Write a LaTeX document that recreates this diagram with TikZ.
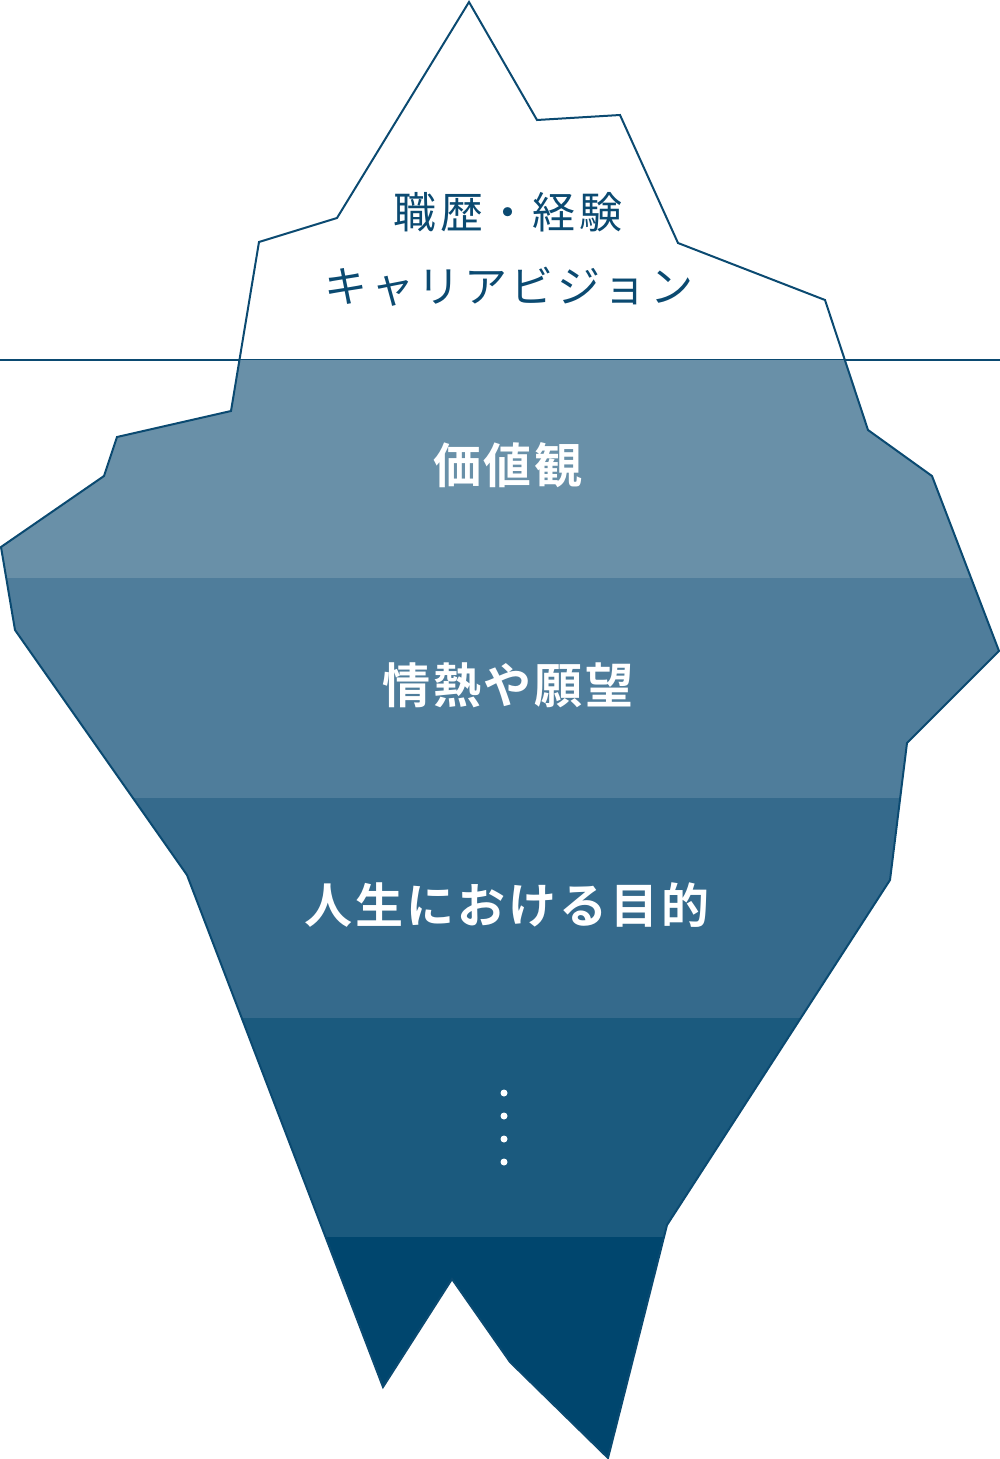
\documentclass[tikz,border=0pt]{standalone}
\usepackage{fontspec}
\newfontfamily\jp{Noto Sans CJK JP}
\newfontfamily\jpsp[LetterSpace=8]{Noto Sans CJK JP}
\newfontfamily\jpbold[LetterSpace=6]{Noto Sans CJK JP Bold}
\definecolor{edge}{HTML}{0B4A71}
\definecolor{bandA}{HTML}{6990A8}
\definecolor{bandB}{HTML}{4F7D9B}
\definecolor{bandC}{HTML}{356A8C}
\definecolor{bandD}{HTML}{1B5A7E}
\definecolor{bandE}{HTML}{00466E}
\tikzset{
  toptext/.style={text=edge, font=\jpsp\fontsize{43}{50}\selectfont, inner sep=0pt, anchor=center},
  bandtext/.style={text=white, font=\jpbold\fontsize{48}{56}\selectfont, inner sep=0pt, anchor=center},
  dotmark/.style={circle, fill=white, inner sep=0pt, minimum size=7pt},
  outline/.style={draw=edge, line width=2pt, line join=miter},
}
\begin{document}
\begin{tikzpicture}[x=1pt,y=-1pt]
\useasboundingbox (0,0) rectangle (1000,1459);
% water line
\draw[edge, line width=2pt] (0,360) -- (1000,360);
\def\berg{(469,2) -- (537,120) -- (620,115) -- (678,243) -- (825,300) -- (868,430) -- (932,476) -- (999,651) -- (907,743) -- (890,880) -- (667,1225) -- (608,1458) -- (510,1362) -- (452,1279) -- (383,1387) -- (187,875) -- (15,630) -- (1,547) -- (104,476) -- (117,437) -- (231,411) -- (259,242) -- (337,218) -- cycle}
\begin{scope}
  \clip \berg;
  \fill[bandA] (0,360) rectangle (1000,579);
  \fill[bandB] (0,578) rectangle (1000,799);
  \fill[bandC] (0,798) rectangle (1000,1019);
  \fill[bandD] (0,1018) rectangle (1000,1238);
  \fill[bandE] (0,1237) rectangle (1000,1459);
\end{scope}
\draw[outline] \berg;
% texts
\node[toptext] (t1) at (508,212) {職歴・経験};
\node[toptext] (t2) at (509,287) {キャリアビジョン};
\node[bandtext] (b1) at (508,465) {価値観};
\node[bandtext] (b2) at (508,685) {情熱や願望};
\node[bandtext] (b3) at (507,905) {人生における目的};
\node[dotmark] (d1) at (504,1093) {};
\node[dotmark] (d2) at (504,1116) {};
\node[dotmark] (d3) at (504,1139) {};
\node[dotmark] (d4) at (504,1162) {};
\end{tikzpicture}
\end{document}
